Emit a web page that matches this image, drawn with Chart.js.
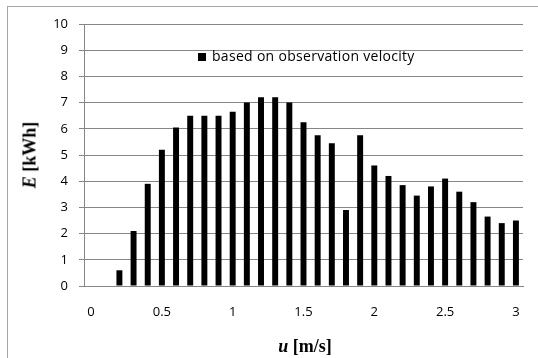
<!DOCTYPE html>
<html>
<head>
<meta charset="utf-8">
<script src="https://cdn.jsdelivr.net/npm/chart.js@4"></script>
<style>
html,body{margin:0;padding:0;background:#fff;overflow:hidden}
#wrap{position:relative;width:538px;height:358px}
#frame{position:absolute;left:7px;top:6px;width:600px;height:400px;border-left:1px solid #a6a6a6;border-top:1px solid #a6a6a6}
canvas{position:absolute;left:0;top:0}
.ttl{position:absolute;font-family:"Liberation Serif","Times New Roman",serif;font-weight:bold;font-size:18px;color:#000;white-space:nowrap}
#ytitle{left:30px;top:155px;transform:translate(-50%,-50%) rotate(-90deg)}
#xtitle{left:305px;top:346px;transform:translate(-50%,-50%)}
#legend{position:absolute;left:198px;top:47px;font-family:"Open Sans",sans-serif;font-size:14px;letter-spacing:0.3px;color:#000;white-space:nowrap;line-height:18px}
#legend span.box{display:inline-block;width:8px;height:8px;background:#000;margin-right:6px;vertical-align:0px}
</style>
</head>
<body>
<div id="wrap">
  <div id="frame"></div>
  <canvas id="c" width="538" height="358"></canvas>
  <div id="legend"><span class="box"></span>based on observation velocity</div>
  <div class="ttl" id="ytitle"><i>E</i> [kWh]</div>
  <div class="ttl" id="xtitle"><i>u</i> [m/s]</div>
</div>
<script>
// data
const categories=['0','0.1','0.2','0.3','0.4','0.5','0.6','0.7','0.8','0.9','1','1.1','1.2','1.3','1.4','1.5','1.6','1.7','1.8','1.9','2','2.1','2.2','2.3','2.4','2.5','2.6','2.7','2.8','2.9','3'];
const energy=[0,0,0.6,2.1,3.9,5.2,6.05,6.5,6.5,6.5,6.65,7.0,7.2,7.2,7.0,6.25,5.75,5.45,2.9,5.75,4.6,4.2,3.85,3.45,3.8,4.1,3.6,3.2,2.65,2.4,2.5];
const xTickLabels=['0','0.5','1','1.5','2','2.5','3'];
const yMin=0, yMax=10, yStep=1;

const gridGrey='#868686';
const tickFont={family:'Open Sans',size:13};

new Chart(document.getElementById('c'),{
  type:'bar',
  data:{
    labels:categories,
    datasets:[{label:'based on observation velocity',data:energy,backgroundColor:'#000',
      barPercentage:0.42,categoryPercentage:1}]
  },
  options:{
    responsive:false,animation:false,
    layout:{padding:{top:24,right:15,left:0,bottom:0}},
    plugins:{legend:{display:false},tooltip:{enabled:false}},
    scales:{
      x:{
        grid:{display:false,drawTicks:false},
        border:{color:gridGrey},
        ticks:{autoSkip:false,maxRotation:0,minRotation:0,padding:18,color:'#000',font:tickFont,
          callback:(v,i)=>xTickLabels.includes(categories[i])?categories[i]:''},
        afterFit:s=>{s.height=72;}
      },
      y:{
        min:yMin,max:yMax,
        grid:{color:gridGrey,tickLength:5},
        border:{color:gridGrey},
        ticks:{stepSize:yStep,padding:11,color:'#000',font:tickFont},
        afterFit:s=>{s.width=84;}
      }
    }
  }
});
</script>
</body>
</html>
